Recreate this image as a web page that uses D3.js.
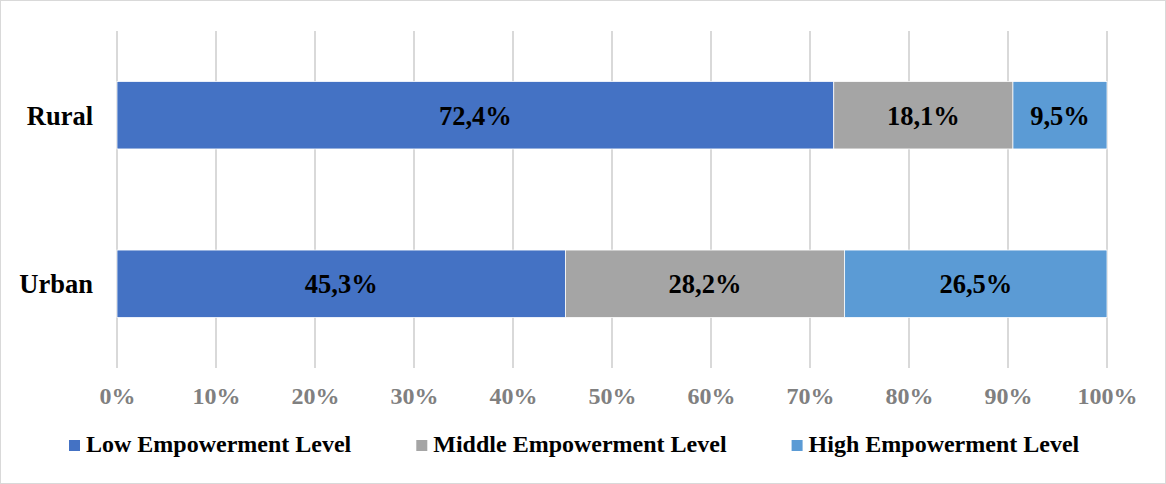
<!DOCTYPE html>
<html>
<head>
<meta charset="utf-8">
<script src="https://cdn.jsdelivr.net/npm/d3@7/dist/d3.min.js"></script>
<style>
  html, body { margin: 0; padding: 0; background: #fff; }
  svg { display: block; }
  text { font-family: "Liberation Serif", "Times New Roman", serif; font-weight: bold; }
</style>
</head>
<body>
<svg id="chart" width="1166" height="484"></svg>
<script>
const categories = ["Rural", "Urban"];
const seriesNames = ["Low Empowerment Level", "Middle Empowerment Level", "High Empowerment Level"];
const seriesColors = ["#4472C4", "#A5A5A5", "#5B9BD5"];
const lowValues = [72.4, 45.3];
const middleValues = [18.1, 28.2];
const highValues = [9.5, 26.5];
const tickValues = [0, 10, 20, 30, 40, 50, 60, 70, 80, 90, 100];

const W = 1166, H = 484;
const margin = { left: 117, right: 59, top: 31, bottom: 116 };
const FONT = '"Liberation Serif", "Times New Roman", serif';
const svg = d3.select("#chart");

svg.append("rect")
  .attr("x", 0.5).attr("y", 0.5)
  .attr("width", W - 1).attr("height", H - 1)
  .attr("fill", "#fff").attr("stroke", "#d9d9d9").attr("stroke-width", 1);

const x = d3.scaleLinear().domain([0, 100]).range([margin.left, W - margin.right]);
const y = d3.scaleBand().domain(categories)
  .range([margin.top, H - margin.bottom])
  .paddingInner(0.6).paddingOuter(0.3);

// gridlines
svg.append("g").selectAll("line").data(tickValues).join("line")
  .attr("x1", d => x(d)).attr("x2", d => x(d))
  .attr("y1", margin.top).attr("y2", H - margin.bottom)
  .attr("stroke", "#d9d9d9").attr("stroke-width", 2);

// stacked data
const rows = categories.map((c, i) => ({ cat: c, vals: [lowValues[i], middleValues[i], highValues[i]] }));
const segs = [];
rows.forEach(r => {
  let acc = 0;
  r.vals.forEach((v, k) => {
    segs.push({ cat: r.cat, k, v, x0: acc, x1: acc + v });
    acc += v;
  });
});

svg.append("g").selectAll("rect").data(segs).join("rect")
  .attr("x", d => x(d.x0))
  .attr("y", d => y(d.cat))
  .attr("width", d => x(d.x1) - x(d.x0))
  .attr("height", y.bandwidth())
  .attr("fill", d => seriesColors[d.k])
  .attr("stroke", "#ffffff").attr("stroke-width", 0.75);

svg.append("g").selectAll("text").data(segs).join("text")
  .attr("x", d => (x(d.x0) + x(d.x1)) / 2)
  .attr("y", d => y(d.cat) + y.bandwidth() / 2)
  .attr("dy", "0.35em")
  .attr("text-anchor", "middle")
  .attr("font-size", 26.5)
  .attr("fill", "#000")
  .style("font-family", FONT)
  .text(d => d.v.toFixed(1).replace(".", ",") + "%");

// category labels
svg.append("g").selectAll("text").data(categories).join("text")
  .attr("x", 93)
  .attr("y", d => y(d) + y.bandwidth() / 2)
  .attr("dy", "0.35em")
  .attr("text-anchor", "end")
  .attr("font-size", 26.5)
  .attr("fill", "#000")
  .style("font-family", FONT)
  .text(d => d);

// x axis
const xAxis = d3.axisBottom(x).tickValues(tickValues).tickSize(0).tickPadding(0)
  .tickFormat(d => d + "%");
const gx = svg.append("g").attr("transform", `translate(0, ${H - margin.bottom})`).call(xAxis);
gx.attr("font-family", FONT);
gx.select(".domain").remove();
gx.selectAll("text")
  .attr("y", 36).attr("dy", 0)
  .attr("font-size", 24)
  .attr("fill", "#808080")
  .style("font-family", FONT)
  .style("font-weight", "bold");

// legend
const legend = svg.append("g");
let lx = 69;
const ly = 452;
seriesNames.forEach((name, k) => {
  legend.append("rect")
    .attr("x", lx).attr("y", ly - 12)
    .attr("width", 11).attr("height", 11)
    .attr("fill", seriesColors[k]);
  const t = legend.append("text")
    .attr("x", lx + 17).attr("y", ly)
    .attr("font-size", 24)
    .attr("fill", "#000")
    .style("font-family", FONT)
    .text(name);
  const w = t.node().getComputedTextLength();
  lx += 17 + w + 65;
});
</script>
</body>
</html>
